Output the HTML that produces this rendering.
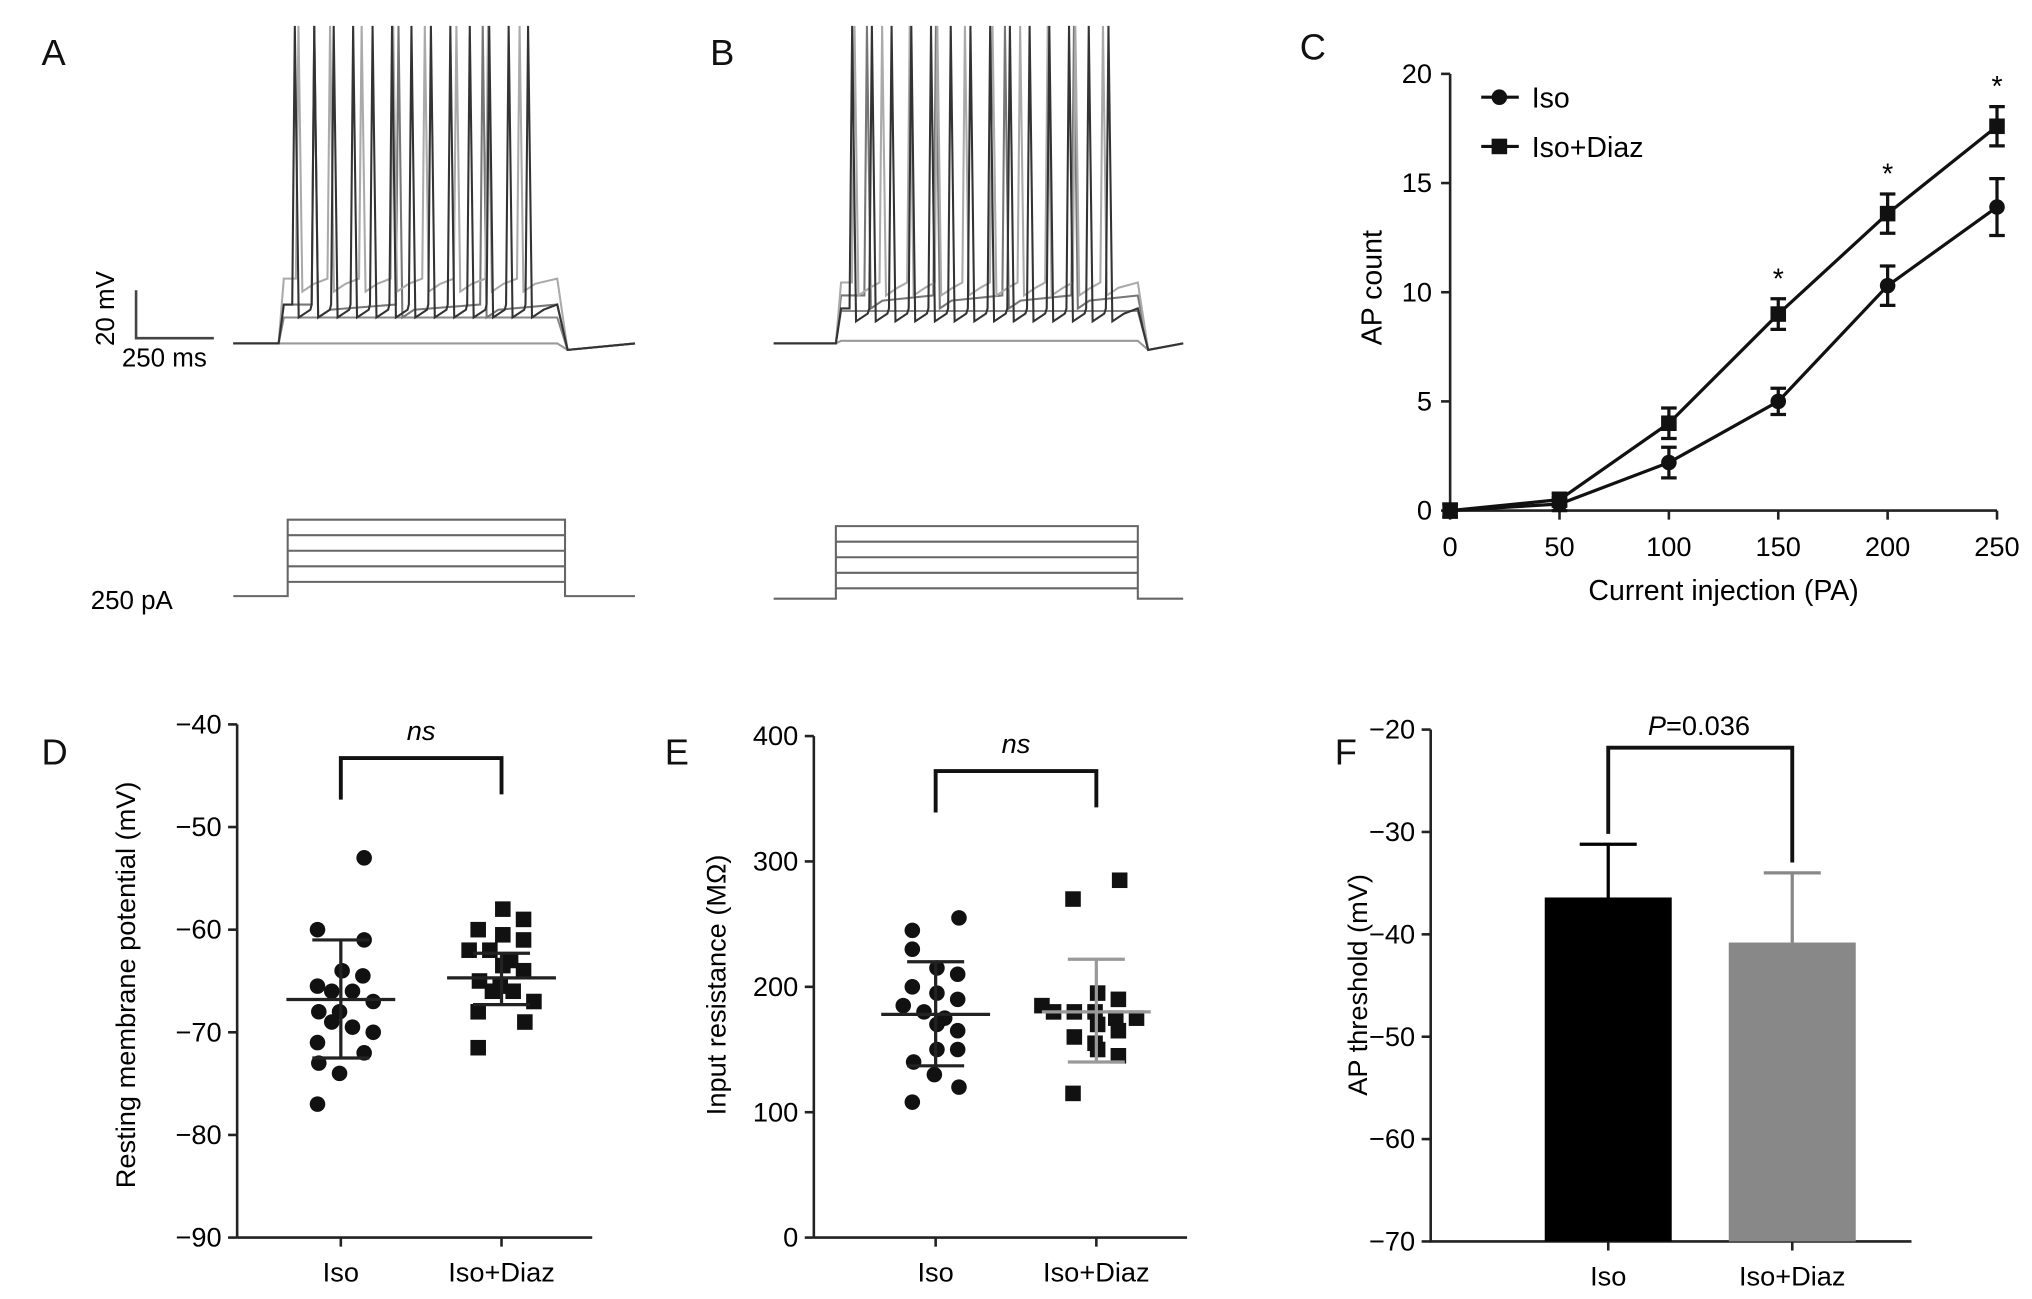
<!DOCTYPE html>
<html><head><meta charset="utf-8"><style>
html,body{margin:0;padding:0;background:#fff;}
svg{display:block;font-family:"Liberation Sans",Arial,sans-serif;}
</style></head><body>
<svg id="fig" width="2032" height="1299" viewBox="0 0 1568 1002.4" preserveAspectRatio="none">
<g font-size="28" fill="#111">
<text x="32" y="50">A</text>
<text x="548" y="50">B</text>
<text x="1003" y="46">C</text>
<text x="32" y="590">D</text>
<text x="513" y="590">E</text>
<text x="1030" y="590">F</text>
</g>
<g id="traces"></g>
<g stroke="#444" stroke-width="2" fill="none">
<path d="M105,224 V261 H165"/>
</g>
<text x="88" y="267" font-size="20" transform="rotate(-90 88 267)">20 mV</text>
<text x="94" y="283" font-size="20">250 ms</text>
<text x="70" y="470" font-size="20">250 pA</text>
<g id="chartC"></g>
<g id="chartD"></g>
<g id="chartE"></g>
<g id="chartF"></g>
</svg>
<script>
// ---- Panel C data ----
const currents = [0,50,100,150,200,250];
const isoCount = [0,0.3,2.2,5,10.3,13.9];
const isoErr = [0.3,0.3,0.7,0.6,0.9,1.3];
const diazCount = [0,0.5,4,9,13.6,17.6];
const diazErr = [0.3,0.3,0.7,0.7,0.9,0.9];
const starAt = [150,200,250];
const cXTicks = [0,50,100,150,200,250];
const cYTicks = [0,5,10,15,20];
// ---- Panel D data ----
const dIso = [-53,-60,-61,-64,-64.5,-65.5,-66,-66,-67,-68,-68,-69,-69.5,-70,-71,-72,-73,-74,-77];
const dDiaz = [-58,-59,-60,-60.5,-61,-62,-62,-63,-63.5,-64,-65,-65.5,-66,-66,-67,-68,-69,-71.5];
const dStats = {isoMean:-66.8,isoHi:-61,isoLo:-72.5,diazMean:-64.7,diazHi:-62.3,diazLo:-67.3};
const dYTicks = [-40,-50,-60,-70,-80,-90];
// ---- Panel E data ----
const eIso = [255,245,230,215,210,200,195,190,185,180,175,170,165,150,150,140,130,120,108];
const eDiaz = [285,270,195,190,185,180,180,180,175,175,170,165,160,155,150,145,115];
const eStats = {isoMean:178,isoHi:220,isoLo:137,diazMean:180,diazHi:222,diazLo:140};
const eYTicks = [0,100,200,300,400];
// ---- Panel F data ----
const fCats = ['Iso','Iso+Diaz'];
const fMeans = [-36.4,-40.8];
const fErrTop = [-31.2,-34];
const fYTicks = [-20,-30,-40,-50,-60,-70];

const NS='http://www.w3.org/2000/svg';
function mk(parent,tag,attrs,text){const e=document.createElementNS(NS,tag);for(const k in attrs)e.setAttribute(k,attrs[k]);if(text!==undefined)e.textContent=text;parent.appendChild(e);return e;}

// ---- Traces (illustrative) ----
const tr=document.getElementById('traces');
function trace(x0,x1,s0,s1,base,levels,spikesN,colors){
  levels.forEach((lv,i)=>{
    let d=`M${x0},${base}`;
    const n=spikesN[i];
    d+=` L${s0},${base} L${s0+4},${lv}`;
    for(let k=0;k<n;k++){const sx=s0+8+(s1-s0-20)*(k+0.3)/n; d+=` L${sx-2},${lv} L${sx},20 L${sx+3},${lv+10} L${sx+12},${lv+4}`;}
    d+=` L${s1},${lv} L${s1+8},${base+5} L${x1},${base}`;
    const p=mk(tr,'path',{d,fill:'none',stroke:colors[i],'stroke-width':1.6});
    
    
  });
}
trace(180,490,215,430,265,[265,245,235,215,235],[0,0,3,8,13],['#999','#888','#777','#aaa','#333']);
trace(597,913,645,878,265,[263,240,228,218,238],[0,0,4,10,14],['#999','#888','#777','#aaa','#333']);
function steps(x0,x1,s0,s1,base,levels){
  let d=`M${x0},${base} H${s0} V${levels[0]} H${s1} V${base} H${x1}`;
  levels.slice(1).forEach(l=>{d+=` M${s0},${l} H${s1}`});
  const p=mk(tr,'path',{d,fill:'none',stroke:'#666','stroke-width':1.6});
  
  
}
steps(180,490,222,436,460,[401,413,425,437,449]);
steps(597,913,645,878,462,[406,418,430,442,454]);

// ---- Chart C ----
(function(){
const g=document.getElementById('chartC');
const X=v=>1119+v*(1541-1119)/250, Y=v=>394-v*(394-57)/20;
mk(g,'path',{d:`M${X(0)},${Y(20)} V${Y(0)} H${X(250)}`,stroke:'#222','stroke-width':2,fill:'none'});
cYTicks.forEach(t=>{mk(g,'line',{x1:X(0)-7,x2:X(0),y1:Y(t),y2:Y(t),stroke:'#222','stroke-width':2});
 const l=mk(g,'text',{x:X(0)-14,y:Y(t)+7,'font-size':21,'text-anchor':'end'},t);});
cXTicks.forEach(t=>{mk(g,'line',{x1:X(t),x2:X(t),y1:Y(0),y2:Y(0)+7,stroke:'#222','stroke-width':2});
 const l=mk(g,'text',{x:X(t),y:Y(0)+35,'font-size':21,'text-anchor':'middle'},t);});
const xt=mk(g,'text',{x:1330,y:463,'font-size':22,'text-anchor':'middle'},'Current injection (PA)');
const yt=mk(g,'text',{x:1066,y:222,'font-size':22,'text-anchor':'middle',transform:'rotate(-90 1066 222)'},'AP count');
function series(vals,errs,sq,name){
 mk(g,'polyline',{points:currents.map((c,i)=>X(c)+','+Y(vals[i])).join(' '),fill:'none',stroke:'#111','stroke-width':2.5});
 currents.forEach((c,i)=>{
  mk(g,'path',{d:`M${X(c)},${Y(vals[i]-errs[i])} V${Y(vals[i]+errs[i])} M${X(c)-6},${Y(vals[i]-errs[i])} h12 M${X(c)-6},${Y(vals[i]+errs[i])} h12`,stroke:'#111','stroke-width':2.5,fill:'none'});
  const m=sq?mk(g,'rect',{x:X(c)-6,y:Y(vals[i])-6,width:12,height:12,fill:'#111'}):mk(g,'circle',{cx:X(c),cy:Y(vals[i]),r:6,fill:'#111'});
  
 });
}
series(isoCount,isoErr,false,'iso');
series(diazCount,diazErr,true,'iso-diaz');
starAt.forEach(s=>{const i=currents.indexOf(s);const t=mk(g,'text',{x:X(s),y:Y(diazCount[i]+diazErr[i])-8,'font-size':22,'text-anchor':'middle'},'*');});
// legend
mk(g,'line',{x1:1143,x2:1172,y1:75,y2:75,stroke:'#111','stroke-width':2.5});
mk(g,'circle',{cx:1157,cy:75,r:6,fill:'#111'});
const l1=mk(g,'text',{x:1182,y:83,'font-size':22},'Iso');
mk(g,'line',{x1:1143,x2:1172,y1:113,y2:113,stroke:'#111','stroke-width':2.5});
mk(g,'rect',{x:1151,y:107,width:12,height:12,fill:'#111'});
const l2=mk(g,'text',{x:1182,y:121,'font-size':22},'Iso+Diaz');
})();

// ---- Scatter charts D & E ----
function scatter(id,axX,y0v,y0p,y1v,y1p,ticks,isoV,diazV,st,xIso,xDiaz,title,tx,bracketY,diazGray){
 const g=document.getElementById(id);
 const Y=v=>y0p+(v-y0v)*(y1p-y0p)/(y1v-y0v);
 mk(g,'line',{x1:axX,x2:axX,y1:Y(ticks[0]),y2:Y(ticks[ticks.length-1]),stroke:'#222','stroke-width':2});
 const bottom=Math.max(Y(ticks[0]),Y(ticks[ticks.length-1]));
 mk(g,'line',{x1:axX,x2:axX+(xDiaz-axX)+70,y1:bottom,y2:bottom,stroke:'#222','stroke-width':2});
 ticks.forEach(t=>{mk(g,'line',{x1:axX-7,x2:axX,y1:Y(t),y2:Y(t),stroke:'#222','stroke-width':2});
  const l=mk(g,'text',{x:axX-12,y:Y(t)+7,'font-size':21,'text-anchor':'end'},t<0?'\u2212'+(-t):t);});
 [[xIso,'Iso'],[xDiaz,'Iso+Diaz']].forEach(([x,s])=>{mk(g,'line',{x1:x,x2:x,y1:bottom,y2:bottom+7,stroke:'#222','stroke-width':2});
  const l=mk(g,'text',{x:x,y:bottom+34,'font-size':21,'text-anchor':'middle'},s);});
 const yt=mk(g,'text',{x:tx,y:760,'font-size':21,'text-anchor':'middle',transform:`rotate(-90 ${tx} 760)`},title);
 function pts(vals,cx,sq,name){
  const counts={};
  vals.forEach(v=>{const b=Math.round(Y(v)/11);counts[b]=(counts[b]||0)+1;});
  const used={};
  vals.forEach(v=>{const b=Math.round(Y(v)/11);const n=counts[b];used[b]=(used[b]||0);const k=used[b]++;
   const off=(k-(n-1)/2)*16+((b%2)?-18:18)*(n==1?1:0.5);const x=cx+Math.max(-42,Math.min(42,off));
   const m=sq?mk(g,'rect',{x:x-6,y:Y(v)-6,width:12,height:12,fill:'#111'}):mk(g,'circle',{cx:x,cy:Y(v),r:6,fill:'#111'});
   });
 }
 pts(isoV,xIso,false,'iso');pts(diazV,xDiaz,true,'iso-diaz');
 function stat(cx,m,hi,lo,col){mk(g,'path',{d:`M${cx-42},${Y(m)} h84 M${cx},${Y(hi)} V${Y(lo)} M${cx-22},${Y(hi)} h44 M${cx-22},${Y(lo)} h44`,stroke:col,'stroke-width':2.5,fill:'none'});}
 stat(xIso,st.isoMean,st.isoHi,st.isoLo,'#222');stat(xDiaz,st.diazMean,st.diazHi,st.diazLo,diazGray?'#999':'#222');
 mk(g,'path',{d:`M${xIso},${bracketY+32} V${bracketY} H${xDiaz} V${bracketY+28}`,stroke:'#111','stroke-width':3,fill:'none'});
 const ns=mk(g,'text',{x:(xIso+xDiaz)/2,y:bracketY-14,'font-size':21,'font-style':'italic','text-anchor':'middle'},'ns');
}
scatter('chartD',183,-40,559,-90,955,dYTicks,dIso,dDiaz,dStats,263,387,'Resting membrane potential (mV)',104,585,false);
scatter('chartE',628,0,955,400,568,eYTicks,eIso,eDiaz,eStats,722,846,'Input resistance (M\u03A9)',560,595,true);

// ---- Chart F ----
(function(){
const g=document.getElementById('chartF');
const Y=v=>563+(v+20)*(958-563)/(-50);
const xs=[1241,1383],bw=98,cols=['#000','#888'];
mk(g,'path',{d:`M1104,${Y(-20)} V${Y(-70)} H1475`,stroke:'#222','stroke-width':2,fill:'none'});
fYTicks.forEach(t=>{mk(g,'line',{x1:1097,x2:1104,y1:Y(t),y2:Y(t),stroke:'#222','stroke-width':2});
 const l=mk(g,'text',{x:1092,y:Y(t)+7,'font-size':21,'text-anchor':'end'},'\u2212'+(-t));});
fCats.forEach((c,i)=>{
 mk(g,'path',{d:`M${xs[i]},${Y(fMeans[i])} V${Y(fErrTop[i])} M${xs[i]-22},${Y(fErrTop[i])} h44`,stroke:cols[i],'stroke-width':2.5,fill:'none'});
 const r=mk(g,'rect',{x:xs[i]-bw/2,y:Y(fMeans[i]),width:bw,height:Y(-70)-Y(fMeans[i]),fill:cols[i]});
 
 mk(g,'line',{x1:xs[i],x2:xs[i],y1:Y(-70),y2:Y(-70)+7,stroke:'#222','stroke-width':2});
 const l=mk(g,'text',{x:xs[i],y:Y(-70)+34,'font-size':21,'text-anchor':'middle'},c);
});
mk(g,'path',{d:`M${xs[0]},${Y(fErrTop[0])-8} V577 H${xs[1]} V${Y(fErrTop[1])-8}`,stroke:'#111','stroke-width':3,fill:'none'});
const p=mk(g,'text',{x:1311,y:567,'font-size':21,'text-anchor':'middle'});p.innerHTML='<tspan font-style="italic">P</tspan>=0.036';
const yt=mk(g,'text',{x:1055,y:760,'font-size':21,'text-anchor':'middle',transform:'rotate(-90 1055 760)'},'AP threshold (mV)');
})();
</script>
</body></html>
